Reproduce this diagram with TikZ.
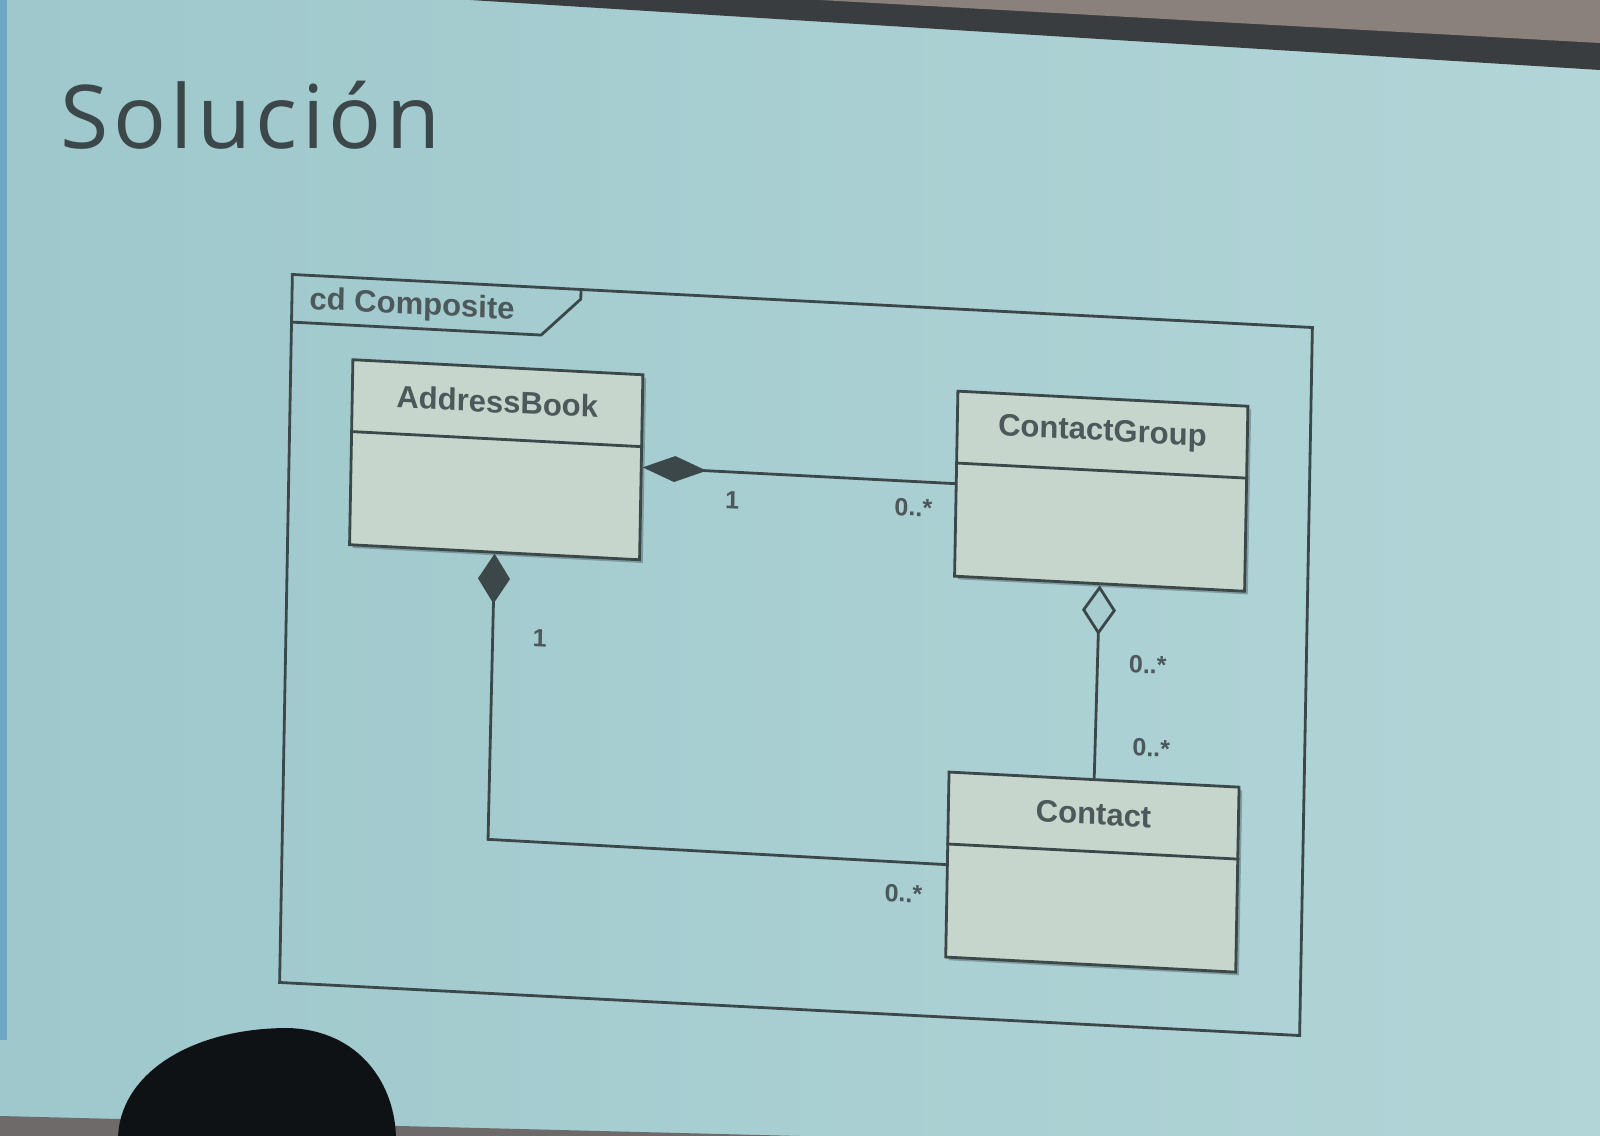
\documentclass[tikz,border=0pt]{standalone}
\usepackage{fontspec}
\setmainfont{Liberation Sans}
\newfontfamily\titlefont[LetterSpace=5]{Open Sans}
\usetikzlibrary{arrows.meta,calc,shadows}

\definecolor{slideleft}{HTML}{9EC8CC}
\definecolor{slideright}{HTML}{B2D5D7}
\definecolor{slidebg}{HTML}{A8CDD0}
\definecolor{boxfill}{HTML}{C6D6CC}
\definecolor{ink}{HTML}{3C4749}
\definecolor{textgray}{HTML}{4C585A}
\definecolor{band}{HTML}{3A3D3F}
\definecolor{wall}{HTML}{8A817C}
\definecolor{floorband}{HTML}{6E6A6A}
\definecolor{hair}{HTML}{0F1215}
\definecolor{edgeblue}{HTML}{6EA6C6}

\tikzset{
  umlline/.style={draw=ink, line width=1.4pt},
  classbox/.style={draw=ink, line width=1.4pt, fill=boxfill, anchor=north west,
    minimum width=145pt, minimum height=92.5pt, inner sep=0pt,
    drop shadow={shadow xshift=1.6pt, shadow yshift=-1.6pt, fill=black, opacity=0.25}},
  classname/.style={text=textgray, font=\fontsize{15.5}{18}\selectfont\bfseries},
  framelabel/.style={text=textgray, font=\fontsize{15.5}{18}\selectfont\bfseries, anchor=west},
  mult/.style={text=textgray, font=\fontsize{12.5}{15}\selectfont\bfseries},
  slidetitle/.style={text=ink, font=\titlefont\fontsize{44}{52}\selectfont, anchor=base west, inner sep=0pt},
  composition/.style={{Diamond[length=32pt,width=13pt,fill=ink]}-},
  compositionv/.style={{Diamond[length=25pt,width=16pt,fill=ink]}-},
  aggregation/.style={{Diamond[open,length=25pt,width=17pt,fill=slidebg]}-}
}

\begin{document}
\begin{tikzpicture}[x=0.5pt,y=-0.5pt]
\useasboundingbox (0,0) rectangle (1600,1135);
\clip (0,0) rectangle (1600,1135);

% screen and room around it
\shade[left color=slideleft, right color=slideright] (0,0) rectangle (1600,1135);
\fill[edgeblue] (0,0) rectangle (7,1040);
\fill[band] (470,0) -- (1600,0) -- (1600,70) -- cycle;
\fill[wall] (820,0) -- (1600,0) -- (1600,43) -- cycle;
\fill[floorband] (0,1116) -- (1600,1156) -- (1600,1200) -- (0,1200) -- cycle;

% slide title
\node[slidetitle] (title) at (60,148) {Solución};

% class diagram, seen slightly askew
\begin{scope}[shift={(291,273)}, cm={1,-0.052,0.018,1,(0,0)},
              every node/.append style={transform shape}]
  % diagram frame with its name tab
  \node[draw=ink, line width=1.4pt, anchor=north west, inner sep=0pt,
        minimum width=510pt, minimum height=354pt] (frame) at (0,0) {};
  \draw[umlline] (frame.north west) ++(0,49) -- ++(251,0) -- ++(39,-38) -- ++(0,-11);
  \node[framelabel] (framename) at (12,27) {cd Composite};

  % classes
  \node[classbox] (ab) at (62,82) {};
  \node[classbox] (cg) at (667,82) {};
  \node[classbox] (ct) at (665,463) {};

  \foreach \c/\t in {ab/AddressBook, cg/ContactGroup, ct/Contact}{
    \draw[umlline] ($(\c.north west)!0.39!(\c.south west)$) -- ($(\c.north east)!0.39!(\c.south east)$);
    \node[classname] (\c-name) at ($(\c.north)!0.19!(\c.south)$) {\t};
  }

  % associations
  \draw[umlline, composition] (ab.east) -- (cg.west);
  \coordinate (abcorner) at (207,555.5);
  \draw[umlline, compositionv] (ab.south) -- (abcorner) -- (ct.west);
  \draw[umlline, aggregation] (cg.south) -- (ct.north);

  % multiplicities
  \node[mult] (m-ab-cg) at (445,204) {1};
  \node[mult] (m-cg-ab) at (626,202) {0..*};
  \node[mult] (m-ab-ct) at (255,352) {1};
  \node[mult] (m-ct-ab) at (623,588) {0..*};
  \node[mult] (m-cg-ct) at (863,347) {0..*};
  \node[mult] (m-ct-cg) at (868,430) {0..*};
\end{scope}

% head of someone in the audience
\fill[hair] (118,1140) .. controls (118,1075) and (190,1028) .. (288,1028)
            .. controls (360,1030) and (396,1085) .. (396,1140) -- cycle;
\end{tikzpicture}
\end{document}
